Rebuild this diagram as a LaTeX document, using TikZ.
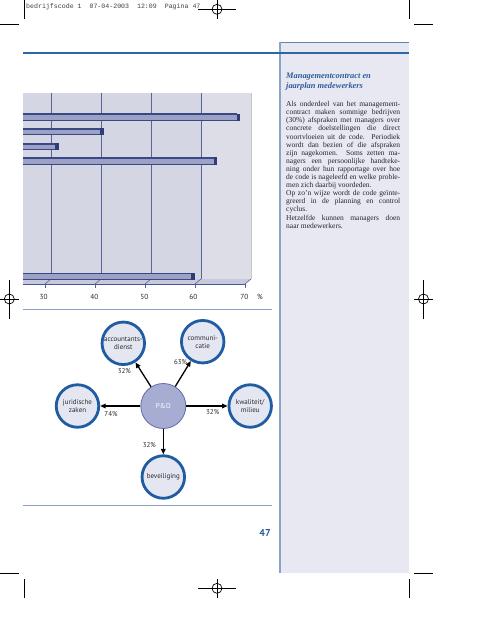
\documentclass[tikz,border=0pt]{standalone}
\usepackage{fontspec}
\setmainfont{Liberation Serif}
\setsansfont{PT Sans}
\setmonofont{Liberation Mono}
\usetikzlibrary{arrows.meta}
\definecolor{ruleblue}{HTML}{2E66A6}
\definecolor{sidefill}{HTML}{E7E8F2}
\definecolor{sideedge}{HTML}{8AA4C8}
\definecolor{sidetop}{HTML}{5A86B8}
\definecolor{titleblue}{HTML}{2C5C9C}
\definecolor{wallA}{HTML}{D4D6E3}
\definecolor{wallB}{HTML}{DCDDE7}
\definecolor{floorc}{HTML}{C6CADB}
\definecolor{gridc}{HTML}{5B6594}
\definecolor{barface}{HTML}{9CA1C6}
\definecolor{bardark}{HTML}{3A4886}
\definecolor{barcap}{HTML}{2E3C78}
\definecolor{thinline}{HTML}{86A0C6}
\definecolor{ringblue}{HTML}{1F5CA2}
\definecolor{ringfill}{HTML}{E4E6F1}
\definecolor{pofill}{HTML}{A6ACD2}
\definecolor{poedge}{HTML}{5F6EA5}
\definecolor{txtgray}{HTML}{2B2B2B}
\newcommand\chartbar[2]{%
  \fill[bardark] (23,#1) rectangle ({#2-3},{#1+1.8});
  \fill[barface] (23,{#1+1.8}) rectangle ({#2-3},{#1+7});
  \draw[bardark,line width=0.5] (23,{#1+7}) -- ({#2-3},{#1+7});
  \fill[barcap] ({#2-3.5},{#1+0.4}) rectangle (#2,{#1+7.5});
}
\begin{document}
\begin{tikzpicture}[x=1pt,y=-1pt,
  crop/.style={black,line width=0.7},
  ring/.style={circle,draw=ringblue,line width=2.8,fill=ringfill,minimum size=42.5pt,inner sep=0pt,
    align=center,font=\sffamily\fontsize{7}{8}\selectfont,text=txtgray},
  pocircle/.style={circle,draw=poedge,line width=0.8,fill=pofill,minimum size=45pt,inner sep=0pt,
    font=\sffamily\fontsize{7.2}{8}\selectfont,text=white},
  arr/.style={line width=1.3,-{Triangle[length=5.5pt,width=4.6pt]}},
  pct/.style={font=\sffamily\fontsize{7}{8}\selectfont,text=txtgray,inner sep=0pt},
  axlab/.style={font=\sffamily\fontsize{7.3}{8}\selectfont,text=txtgray,inner sep=0pt},
  bodytext/.style={inner sep=0pt,align=left,font=\fontsize{7.5}{8.1}\selectfont,text=black!85},
]
\useasboundingbox (0,0) rectangle (495,640);
\fill[white] (0,0) rectangle (495,640);

% header
\node[anchor=base west,inner sep=0pt,font=\ttfamily\fontsize{6.6}{7}\selectfont,text=black!75] (hdr) at (26,8)
  {bedrijfscode 1~~07-04-2003~~12:09~~Pagina 47};

% crop marks
\draw[crop] (24,0) -- (24,19);
\draw[crop] (0,24) -- (19,24);
\draw[crop] (409,0) -- (409,19);
\draw[crop] (414,24) -- (433,24);
\draw[crop] (0,573) -- (19,573);
\draw[crop] (24,579) -- (24,598);
\draw[crop] (414,573) -- (433,573);
\draw[crop] (409,579) -- (409,598);
% registration marks
\draw[crop] (217,9.3) circle (5); \draw[crop] (198,9.3) -- (236,9.3); \draw[crop] (217,0) -- (217,19);
\draw[crop] (217,588.3) circle (5); \draw[crop] (198,588.3) -- (236,588.3); \draw[crop] (217,579) -- (217,598);
\draw[crop] (9.3,299) circle (5); \draw[crop] (0,299) -- (19,299); \draw[crop] (9.3,279.5) -- (9.3,318.5);
\draw[crop] (423.5,299) circle (5); \draw[crop] (414,299) -- (433,299); \draw[crop] (423.5,279.5) -- (423.5,318.5);

% sidebar
\fill[sidefill] (280,42.3) rectangle (409,573);
\draw[sidetop,line width=0.8] (280,42.3) -- (409,42.3);
\draw[sideedge,line width=1.3] (280,42.3) -- (280,573);
% blue rule
\draw[ruleblue,line width=1.4] (23,53) -- (409,53);

% sidebar text
\node[anchor=north west,inner sep=0pt,align=left,font=\bfseries\itshape\fontsize{8.4}{10.8}\selectfont,text=titleblue] (title) at (286,72.4)
  {Managementcontract en\\jaarplan medewerkers};
\node[bodytext,anchor=north west] (body) at (286,101.2) {%
\makebox[114pt][s]{Als onderdeel van het management-}\\
\makebox[114pt][s]{contract maken sommige bedrijven}\\
\makebox[114pt][s]{(30\%) afspraken met managers over}\\
\makebox[114pt][s]{concrete doelstellingen die direct}\\
\makebox[114pt][s]{voortvloeien uit de code. Periodiek}\\
\makebox[114pt][s]{wordt dan bezien of die afspraken}\\
\makebox[114pt][s]{zijn nagekomen. Soms zetten ma-}\\
\makebox[114pt][s]{nagers een persoonlijke handteke-}\\
\makebox[114pt][s]{ning onder hun rapportage over hoe}\\
\makebox[114pt][s]{de code is nageleefd en welke proble-}\\
men zich daarbij voordeden.\\
\makebox[114pt][s]{Op zo'n wijze wordt de code geïnte-}\\
\makebox[114pt][s]{greerd in de planning en control}\\
cyclus.\\
\makebox[114pt][s]{Hetzelfde kunnen managers doen}\\
naar medewerkers.};

% chart
\fill[wallA] (23,93) rectangle (201,279);
\fill[wallB] (201,93) rectangle (251,279);
\draw[gray!45,line width=0.6] (251,93) -- (251,279);
\fill[floorc] (23,279) -- (251,279) -- (245,284) -- (23,284) -- cycle;
\foreach \g in {51,101,151,201} {
  \draw[gridc,line width=0.9] (\g,93) -- (\g,279);
}
\foreach \g in {51,101,151,201,251} {
  \draw[gridc,line width=0.6] (\g,279) -- ({\g-6},284);
  \draw[gridc,line width=0.6] ({\g-6},284) -- ({\g-6},287.5);
}
\draw[gridc!80!blue,line width=0.9] (23,284) -- (245,284);
\chartbar{113.3}{240}
\chartbar{127.7}{103.7}
\chartbar{142.7}{58.7}
\chartbar{157}{217}
\chartbar{272.5}{194.7}
\node[axlab] (l30) at (43.5,297) {30};
\node[axlab] (l40) at (94.3,297) {40};
\node[axlab] (l50) at (144.3,297) {50};
\node[axlab] (l60) at (193.3,297) {60};
\node[axlab] (l70) at (244.3,297) {70};
\node[axlab] (lpc) at (260,297) {\%};

% thin separator lines
\draw[thinline,line width=1] (23,309.5) -- (272,309.5);
\draw[thinline,line width=1] (23,505) -- (272,505);

% diagram
\node[pocircle] (po) at (163.3,406) {P\&O};
\node[ring] (acc) at (123.3,343.3) {accountants-\\dienst};
\node[ring] (com) at (202.7,341.7) {communi-\\catie};
\node[ring] (jur) at (77.5,406) {juridische\\zaken};
\node[ring] (kwa) at (250.2,406) {kwaliteit/\\milieu};
\node[ring] (bev) at (163.3,477) {beveiliging};
\draw[arr] (po) -- (acc);
\draw[arr] (po) -- (com);
\draw[arr] (po) -- (jur);
\draw[arr] (po) -- (kwa);
\draw[arr] (po) -- (bev);
\node[pct] (p1) at (124.3,370.7) {32\%};
\node[pct] (p2) at (180.6,362) {63\%};
\node[pct] (p3) at (111,414) {74\%};
\node[pct] (p4) at (212.7,412) {32\%};
\node[pct] (p5) at (149.3,445.3) {32\%};

% page number
\node[inner sep=0pt,font=\sffamily\bfseries\fontsize{10}{12}\selectfont,text=titleblue] (pg) at (265,533) {47};
\end{tikzpicture}
\end{document}
